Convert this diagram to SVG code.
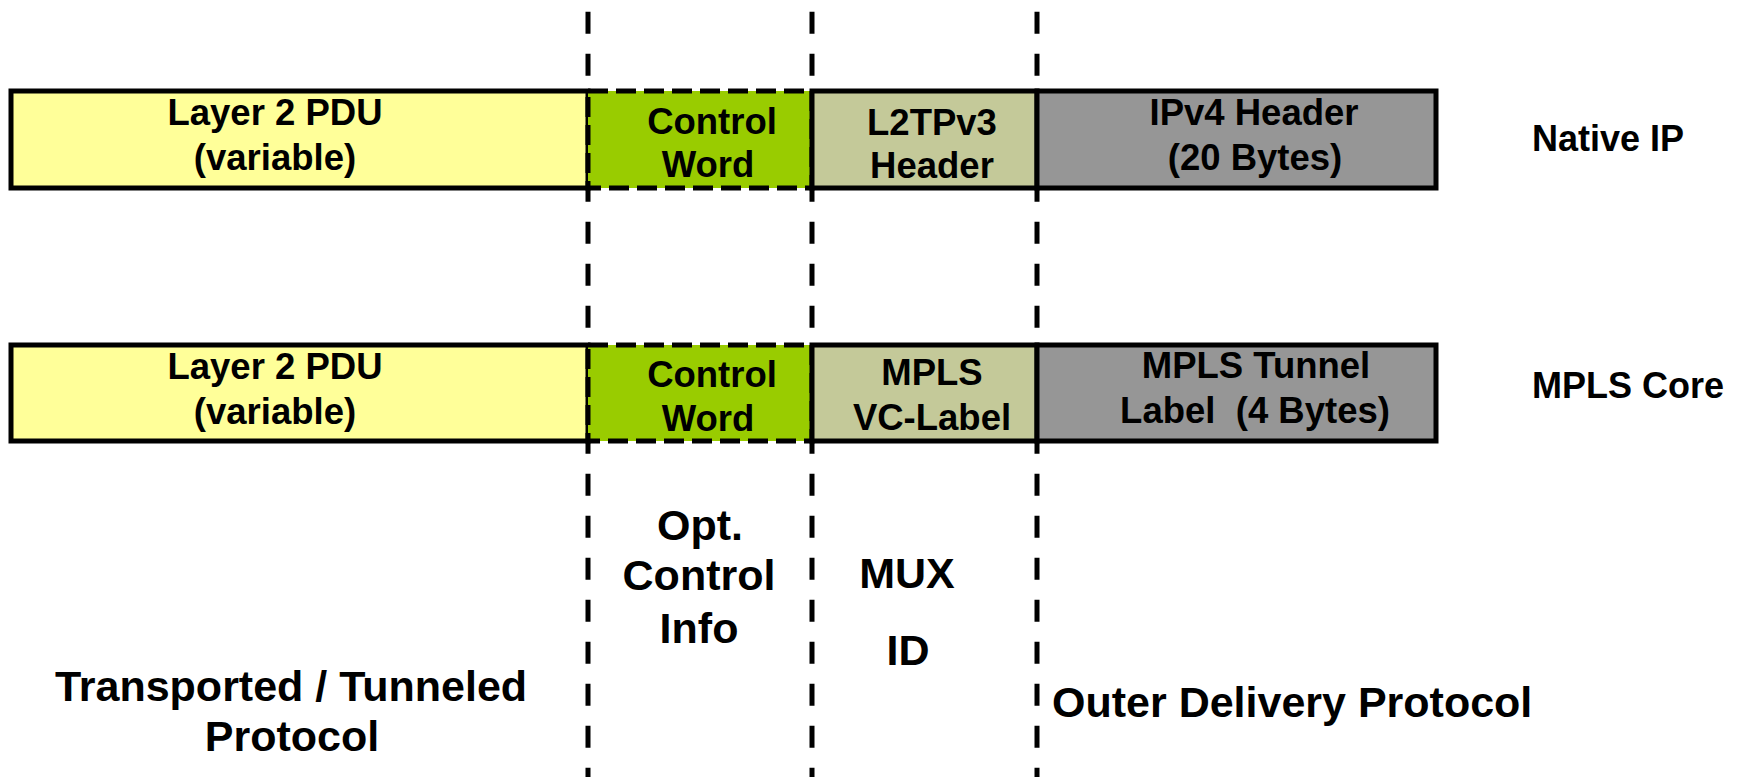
<svg xmlns="http://www.w3.org/2000/svg" width="1740" height="777" viewBox="0 0 1740 777">
<style>
.t{font-family:"Liberation Sans",Arial,sans-serif;font-weight:bold;font-size:36.5px;fill:#000;text-anchor:middle}
.s{font-family:"Liberation Sans",Arial,sans-serif;font-weight:bold;font-size:36px;fill:#000}
.b{font-family:"Liberation Sans",Arial,sans-serif;font-weight:bold;font-size:43px;fill:#000;text-anchor:middle}
.box{stroke:#000;stroke-width:5}
.pdu{fill:#FFFF99}
.cw{fill:#99CC00;stroke:#000;stroke-width:5;stroke-dasharray:20 8}
.hdr{fill:#C4C999}
.out{fill:#969696}
.sep{stroke:#000;stroke-width:5;stroke-dasharray:22 20;fill:none}
</style>
<rect width="1740" height="777" fill="#fff"/>
<g id="connectors">
<line class="sep" x1="588" y1="11.7" x2="588" y2="777"/>
<line class="sep" x1="812" y1="11.7" x2="812" y2="777"/>
<line class="sep" x1="1037" y1="11.7" x2="1037" y2="777"/>
</g>
<g id="row1-pdu"><rect class="box pdu" x="11" y="91" width="577" height="97"/>
<text class="t" x="275" y="125">Layer 2 PDU</text><text class="t" x="275" y="170">(variable)</text></g>
<g id="row1-cw"><rect class="cw" x="588" y="91" width="224" height="97"/>
<text class="t" x="712" y="134">Control</text><text class="t" x="708" y="177">Word</text></g>
<g id="row1-l2tp"><rect class="box hdr" x="812" y="91" width="225" height="97"/>
<text class="t" x="932" y="135">L2TPv3</text><text class="t" x="932" y="178">Header</text></g>
<g id="row1-ipv4"><rect class="box out" x="1037" y="91" width="399" height="97"/>
<text class="t" x="1254" y="125">IPv4 Header</text><text class="t" x="1255" y="170">(20 Bytes)</text></g>
<g id="label-native"><text class="s" x="1532" y="151">Native IP</text></g>
<g id="row2-pdu"><rect class="box pdu" x="11" y="345" width="577" height="96"/>
<text class="t" x="275" y="379">Layer 2 PDU</text><text class="t" x="275" y="424">(variable)</text></g>
<g id="row2-cw"><rect class="cw" x="588" y="345" width="224" height="96"/>
<text class="t" x="712" y="387">Control</text><text class="t" x="708" y="431">Word</text></g>
<g id="row2-vc"><rect class="box hdr" x="812" y="345" width="225" height="96"/>
<text class="t" x="932" y="385">MPLS</text><text class="t" x="932" y="430">VC-Label</text></g>
<g id="row2-tunnel"><rect class="box out" x="1037" y="345" width="399" height="96"/>
<text class="t" x="1256" y="378">MPLS Tunnel</text><text class="t" x="1255" y="423" xml:space="preserve">Label  (4 Bytes)</text></g>
<g id="label-mpls"><text class="s" x="1532" y="398">MPLS Core</text></g>
<g id="label-opt"><text class="b" x="700" y="540">Opt.</text><text class="b" x="699" y="590">Control</text><text class="b" x="699" y="643">Info</text></g>
<g id="label-mux"><text class="b" x="907" y="588">MUX</text><text class="b" x="908" y="665">ID</text></g>
<g id="label-transported"><text class="b" x="291" y="701">Transported / Tunneled</text><text class="b" x="292" y="751">Protocol</text></g>
<g id="label-outer"><text class="b" x="1052" y="717" style="text-anchor:start">Outer Delivery Protocol</text></g>
</svg>
